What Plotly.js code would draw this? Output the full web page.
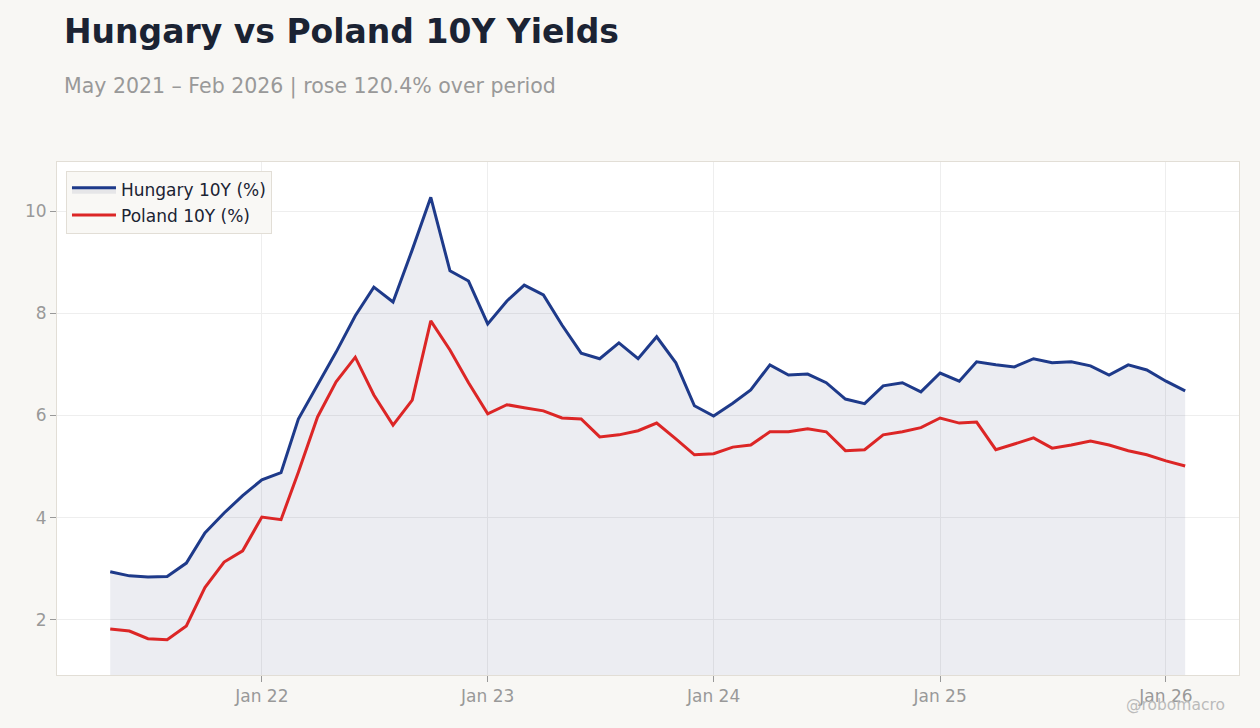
<!DOCTYPE html>
<html>
<head>
<meta charset="utf-8">
<script src="https://cdn.plot.ly/plotly-3.0.1.min.js"></script>
<style>
  html, body { margin: 0; padding: 0; background: #F8F7F4; }
  #chart { width: 1260px; height: 728px; }
</style>
</head>
<body>
<div id="chart"></div>
<script>
// Monthly 10-year government bond yields, May 2021 – Feb 2026
const startYear = 2021;
const startMonth = 5; // May
const monthCount = 58;

const hungary10y = [
  2.94, 2.86, 2.84, 2.85, 3.11, 3.70, 4.09, 4.43,
  4.74, 4.88, 5.93, 6.60, 7.24, 7.95, 8.51, 8.22, 9.24, 10.27, 8.83, 8.63,
  7.79, 8.24, 8.55, 8.36, 7.77, 7.22, 7.11, 7.42, 7.11, 7.54, 7.03, 6.19,
  5.99, 6.24, 6.50, 6.99, 6.79, 6.81, 6.64, 6.32, 6.23, 6.58, 6.64, 6.46,
  6.83, 6.67, 7.05, 6.99, 6.95, 7.11, 7.03, 7.05, 6.97, 6.79, 6.99, 6.89,
  6.67, 6.48
];

const poland10y = [
  1.82, 1.78, 1.63, 1.61, 1.88, 2.63, 3.13, 3.35,
  4.01, 3.96, 4.89, 5.97, 6.66, 7.14, 6.40, 5.81, 6.30, 7.85, 7.28, 6.64,
  6.03, 6.21, 6.15, 6.09, 5.95, 5.93, 5.58, 5.62, 5.70, 5.85, 5.54, 5.23,
  5.25, 5.38, 5.42, 5.68, 5.68, 5.74, 5.68, 5.31, 5.33, 5.62, 5.68, 5.76,
  5.95, 5.85, 5.87, 5.33, 5.44, 5.56, 5.36, 5.42, 5.50, 5.42, 5.31, 5.23,
  5.11, 5.01
];

const yTicks = [2, 4, 6, 8, 10];

// first-of-month dates for each observation
const months = [];
for (let i = 0; i < monthCount; i++) {
  const m = startMonth - 1 + i;
  const y = startYear + Math.floor(m / 12);
  const mm = (m % 12) + 1;
  months.push(y + '-' + String(mm).padStart(2, '0') + '-01');
}

const FONT = 'DejaVu Sans, sans-serif';

const traces = [
  {
    x: months,
    y: hungary10y,
    name: 'Hungary 10Y (%)',
    type: 'scatter',
    mode: 'lines',
    line: { color: '#1E3A8A', width: 3 },
    fill: 'tozeroy',
    fillcolor: 'rgba(40,50,110,0.085)'
  },
  {
    x: months,
    y: poland10y,
    name: 'Poland 10Y (%)',
    type: 'scatter',
    mode: 'lines',
    line: { color: '#DC2626', width: 3 }
  }
];

const layout = {
  width: 1260,
  height: 728,
  paper_bgcolor: '#F8F7F4',
  plot_bgcolor: '#FFFFFF',
  margin: { l: 57, r: 21, t: 162, b: 53 },
  font: { family: FONT, color: '#999999', size: 17 },
  showlegend: true,
  legend: {
    x: 0.0076, y: 0.982, xanchor: 'left', yanchor: 'top',
    bgcolor: '#F9F8F5',
    bordercolor: '#E2DED6',
    borderwidth: 1,
    itemwidth: 44,
    font: { family: FONT, size: 17, color: '#1B2333' }
  },
  xaxis: {
    type: 'date',
    range: ['2021-02-04', '2026-04-29'],
    tick0: '2022-01-01',
    dtick: 'M12',
    tickformat: '%b %y',
    ticks: 'outside',
    ticklen: 6,
    tickcolor: '#999999',
    showgrid: true,
    gridcolor: '#EEEEEE',
    gridwidth: 1,
    showline: true,
    linecolor: '#E2DED6',
    linewidth: 1,
    mirror: true,
    zeroline: false,
    tickfont: { family: FONT, size: 17, color: '#999999' }
  },
  yaxis: {
    range: [0.92, 10.96],
    tickvals: yTicks,
    ticktext: yTicks.map(String),
    ticks: 'outside',
    ticklen: 6,
    tickcolor: '#999999',
    showgrid: true,
    gridcolor: '#EEEEEE',
    gridwidth: 1,
    showline: true,
    linecolor: '#E2DED6',
    linewidth: 1,
    mirror: true,
    zeroline: false,
    tickfont: { family: FONT, size: 17, color: '#999999' }
  },
  annotations: [
    {
      text: '<b>Hungary vs Poland 10Y Yields</b>',
      xref: 'paper', yref: 'paper',
      x: 0.004, y: 1.255, xanchor: 'left', yanchor: 'middle',
      showarrow: false,
      font: { family: FONT, size: 33, color: '#1B2333' }
    },
    {
      text: 'May 2021 – Feb 2026 | rose 120.4% over period',
      xref: 'paper', yref: 'paper',
      x: 0.004, y: 1.148, xanchor: 'left', yanchor: 'middle',
      showarrow: false,
      font: { family: FONT, size: 20.5, color: '#999999' }
    },
    {
      text: '@robomacro',
      xref: 'paper', yref: 'paper',
      x: 0.946, y: -0.058, xanchor: 'center', yanchor: 'middle',
      showarrow: false,
      font: { family: FONT, size: 15.5, color: '#BBBBBB' }
    }
  ]
};

Plotly.newPlot('chart', traces, layout, { displayModeBar: false, staticPlot: true });
</script>
</body>
</html>
